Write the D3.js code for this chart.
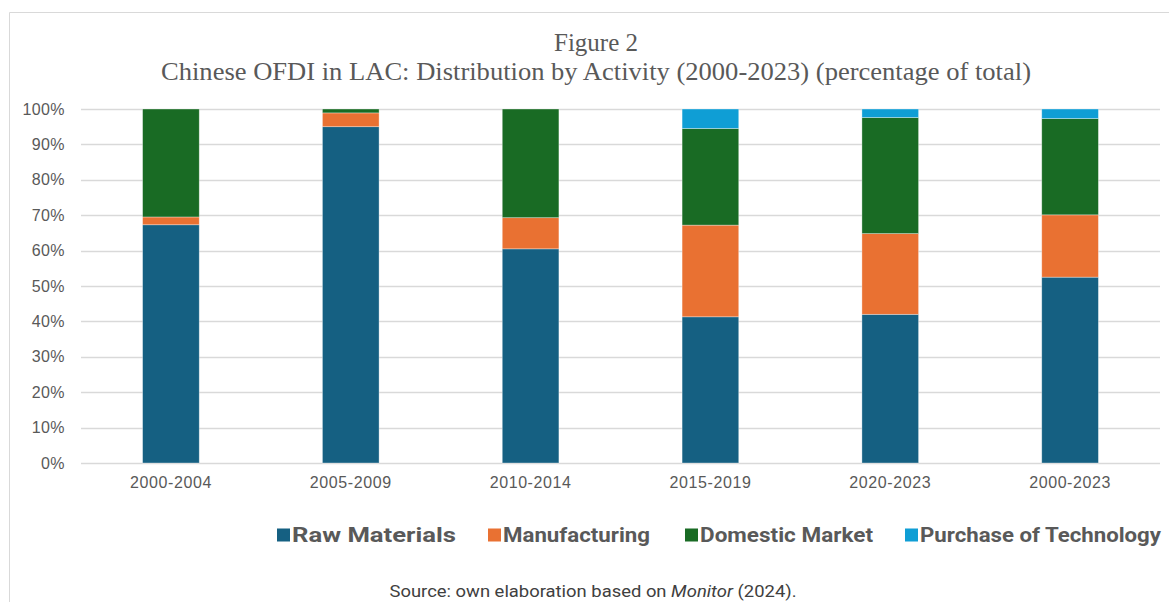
<!DOCTYPE html>
<html>
<head>
<meta charset="utf-8">
<script src="https://cdn.jsdelivr.net/npm/d3@7"></script>
<style>
  body { margin: 0; background: #fff; }
  svg { display: block; }
</style>
</head>
<body>
<div id="chart"></div>
<script>

// --> DATA

var periods = ["2000-2004", "2005-2009", "2010-2014", "2015-2019", "2020-2023", "2000-2023"];
var rawMaterials = [67.3, 95.0, 60.5, 41.3, 42.0, 52.5];
var manufacturing = [2.2, 3.9, 8.8, 25.9, 22.8, 17.6];
var domesticMarket = [30.5, 1.1, 30.7, 27.3, 32.8, 27.2];
var technology = [0, 0, 0, 5.5, 2.4, 2.7];
var seriesNames = ["Raw Materials", "Manufacturing", "Domestic Market", "Purchase of Technology"];
var seriesColors = ["#156082", "#e97132", "#196b24", "#0f9ed5"];
var yTicks = [0, 10, 20, 30, 40, 50, 60, 70, 80, 90, 100];

var width = 1169,
    height = 602;

var margin = {left: 81, right: 9, top: 109, bottom: 139};

var svg = d3.select("#chart").append("svg")
    .attr("width", width)
    .attr("height", height);

// outer frame (only top and left visible)
svg.append("path")
    .attr("d", "M9.5," + height + "V12.5H" + width)
    .attr("fill", "none")
    .attr("stroke", "#d9d9d9")
    .attr("stroke-width", 1);

// title
var title = svg.append("text")
    .attr("text-anchor", "middle")
    .style("font-family", "'Liberation Serif', 'Times New Roman', serif")
    .style("font-size", "25px")
    .style("fill", "#595959");
title.append("tspan").attr("x", 596).attr("y", 51).text("Figure 2");
title.append("tspan").attr("x", 596).attr("y", 80)
    .attr("textLength", 870)
    .attr("lengthAdjust", "spacingAndGlyphs")
    .text("Chinese OFDI in LAC: Distribution by Activity (2000-2023) (percentage of total)");

// table for the stack
var table = periods.map(function (p, i) {
    return {
        period: p,
        "Raw Materials": rawMaterials[i],
        "Manufacturing": manufacturing[i],
        "Domestic Market": domesticMarket[i],
        "Purchase of Technology": technology[i]
    };
});

var stacked = d3.stack().keys(seriesNames)(table);

var x = d3.scaleBand()
    .domain(periods)
    .range([margin.left, width - margin.right])
    .paddingInner(0.685)
    .paddingOuter(0.3425);

var y = d3.scaleLinear()
    .domain([0, 100])
    .range([height - margin.bottom, margin.top]);

// gridlines
svg.append("g")
    .selectAll("line")
    .data(yTicks)
    .enter()
    .append("line")
    .attr("x1", margin.left)
    .attr("x2", width - margin.right)
    .attr("y1", function (d) { return Math.round(y(d)) + 0.5; })
    .attr("y2", function (d) { return Math.round(y(d)) + 0.5; })
    .style("stroke", "#d9d9d9")
    .style("stroke-width", 1.5);

// y axis labels
var yAxis = d3.axisLeft(y)
    .tickValues(yTicks)
    .tickSize(0)
    .tickPadding(0)
    .tickFormat(function (d) { return d + "%"; });

svg.append("g")
    .attr("transform", "translate(65,0)")
    .call(yAxis)
    .call(function (g) { g.select(".domain").remove(); })
    .selectAll("text")
    .style("font-family", "'Liberation Sans', Arial, sans-serif")
    .style("font-size", "16px")
    .style("letter-spacing", "0.4px")
    .style("fill", "#595959");

// bars
svg.append("g")
    .selectAll("g")
    .data(stacked)
    .enter()
    .append("g")
    .style("fill", function (d, i) { return seriesColors[i]; })
    .selectAll("rect")
    .data(function (d) { return d; })
    .enter()
    .append("rect")
    .attr("x", function (d) { return x(d.data.period); })
    .attr("width", x.bandwidth())
    .attr("y", function (d) { return y(d[1]); })
    .attr("height", function (d) { return y(d[0]) - y(d[1]); })
    .style("stroke", "rgba(255,255,255,0.45)")
    .style("stroke-width", 0.75);

// x axis labels
var xAxis = d3.axisBottom(x)
    .tickSize(0)
    .tickPadding(0);

svg.append("g")
    .attr("transform", "translate(0," + (height - margin.bottom + 14) + ")")
    .call(xAxis)
    .call(function (g) { g.select(".domain").remove(); })
    .selectAll("text")
    .style("font-family", "'Liberation Sans', Arial, sans-serif")
    .style("font-size", "16px")
    .style("letter-spacing", "0.6px")
    .style("fill", "#595959");

// legend
var legendX = [277, 488, 685, 905];
var legendW = [164, 147, 173, 241];

var legend = svg.append("g")
    .selectAll("g")
    .data(seriesNames)
    .enter()
    .append("g")
    .attr("transform", function (d, i) { return "translate(" + legendX[i] + ",535)"; });

legend.append("rect")
    .attr("x", 0)
    .attr("y", -6.5)
    .attr("width", 13)
    .attr("height", 13)
    .style("fill", function (d, i) { return seriesColors[i]; });

legend.append("text")
    .attr("x", 15)
    .attr("dy", "0.35em")
    .attr("textLength", function (d, i) { return legendW[i]; })
    .attr("lengthAdjust", "spacingAndGlyphs")
    .style("font-family", "Roboto, 'Open Sans', sans-serif")
    .style("font-weight", "bold")
    .style("font-size", "21px")
    .style("fill", "#595959")
    .text(function (d) { return d; });

// source note
var source = svg.append("text")
    .attr("x", 593)
    .attr("y", 597)
    .attr("text-anchor", "middle")
    .attr("textLength", 407)
    .attr("lengthAdjust", "spacingAndGlyphs")
    .style("font-family", "Roboto, 'Open Sans', sans-serif")
    .style("font-size", "17px")
    .style("fill", "#404040");
source.append("tspan").text("Source: own elaboration based on ");
source.append("tspan").style("font-style", "italic").text("Monitor");
source.append("tspan").text(" (2024).");

</script>
</body>
</html>
